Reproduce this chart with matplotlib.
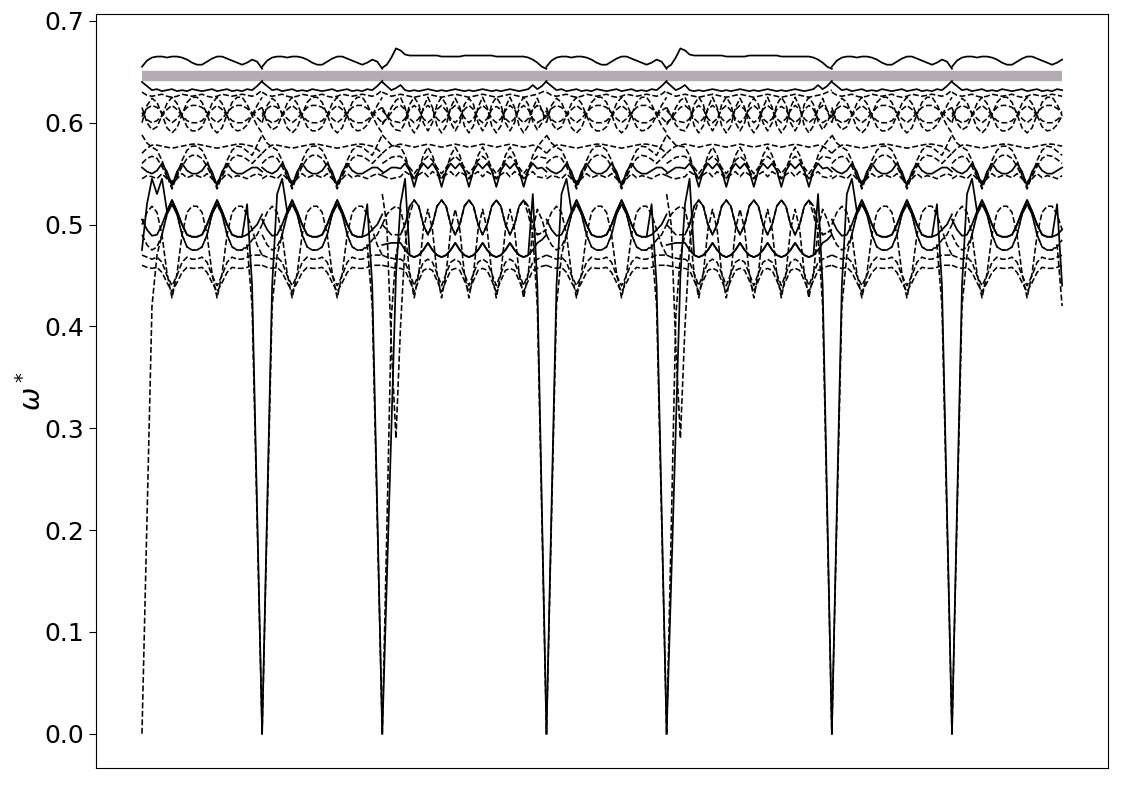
import numpy as np
import matplotlib.pyplot as plt

# k-path: segment type and length along the path
seg_types = ['A', 'A', 'B', 'A', 'B', 'A', 'A']
seg_lengths = [120, 120, 164, 120, 165, 120, 110]
gap_freq = 0.646

# ---- segment type A (25 samples along the segment) ----
A_T1 = [0.655,0.661,0.664,0.665,0.665,0.664,0.665,0.665,0.664,0.662,0.659,0.657,0.657,0.660,0.663,0.665,0.665,0.663,0.661,0.659,0.657,0.659,0.662,0.660,0.653]
A_T2 = [0.640,0.636,0.632,0.633,0.631,0.632,0.633,0.631,0.632,0.631,0.633,0.632,0.631,0.632,0.633,0.631,0.632,0.633,0.631,0.632,0.631,0.633,0.632,0.636,0.641]
A_T3 = [0.630,0.627,0.626,0.627,0.628,0.626,0.625,0.626,0.628,0.627,0.626,0.627,0.628,0.626,0.625,0.626,0.628,0.627,0.626,0.627,0.628,0.627,0.626,0.628,0.632]
A_C1 = [0.610,0.603,0.600,0.602,0.607,0.613,0.617,0.613,0.607,0.602,0.600,0.600,0.602,0.607,0.613,0.617,0.613,0.607,0.602,0.600,0.600,0.603,0.607,0.612,0.615]
A_C2 = [0.606,0.614,0.617,0.615,0.610,0.604,0.600,0.604,0.610,0.615,0.617,0.617,0.615,0.610,0.604,0.600,0.604,0.610,0.615,0.617,0.617,0.614,0.610,0.605,0.600]
A_C3 = [0.600,0.617,0.624,0.620,0.608,0.595,0.590,0.595,0.608,0.620,0.625,0.625,0.620,0.608,0.595,0.590,0.595,0.608,0.620,0.625,0.625,0.618,0.607,0.597,0.590]
A_C4 = [0.615,0.600,0.593,0.596,0.607,0.619,0.625,0.619,0.607,0.596,0.592,0.592,0.596,0.607,0.619,0.625,0.619,0.607,0.596,0.592,0.593,0.598,0.607,0.617,0.625]
A_F1 = [0.570,0.575,0.578,0.578,0.577,0.576,0.575,0.576,0.577,0.578,0.579,0.579,0.578,0.577,0.576,0.575,0.576,0.577,0.578,0.579,0.579,0.578,0.577,0.574,0.570]
A_A1 = [0.588,0.580,0.576,0.573,0.563,0.548,0.535,0.548,0.563,0.573,0.577,0.577,0.573,0.563,0.548,0.535,0.548,0.563,0.573,0.577,0.576,0.572,0.568,0.578,0.588]
A_M1 = [0.556,0.552,0.550,0.553,0.560,0.552,0.538,0.552,0.560,0.553,0.550,0.550,0.553,0.560,0.552,0.538,0.552,0.560,0.553,0.550,0.550,0.553,0.556,0.556,0.552]
A_M2 = [0.545,0.548,0.547,0.545,0.550,0.545,0.540,0.545,0.550,0.546,0.548,0.548,0.546,0.550,0.545,0.540,0.545,0.550,0.546,0.548,0.547,0.545,0.548,0.550,0.548]
A_M3 = [0.560,0.565,0.567,0.565,0.557,0.547,0.542,0.547,0.557,0.565,0.568,0.568,0.565,0.557,0.547,0.542,0.547,0.557,0.565,0.568,0.567,0.564,0.560,0.565,0.570]
A_L1 = [0.505,0.495,0.489,0.490,0.500,0.513,0.524,0.513,0.500,0.490,0.488,0.488,0.490,0.500,0.513,0.524,0.513,0.500,0.490,0.488,0.488,0.490,0.495,0.500,0.510]
A_L2 = [0.500,0.512,0.518,0.512,0.490,0.452,0.428,0.452,0.490,0.512,0.518,0.518,0.512,0.490,0.452,0.428,0.452,0.490,0.512,0.518,0.518,0.510,0.495,0.480,0.470]
A_L3 = [0.490,0.480,0.475,0.478,0.490,0.510,0.520,0.510,0.490,0.478,0.475,0.475,0.478,0.490,0.510,0.520,0.510,0.490,0.478,0.475,0.475,0.478,0.485,0.490,0.500]
A_L4 = [0.470,0.468,0.466,0.468,0.463,0.450,0.440,0.450,0.463,0.468,0.466,0.466,0.468,0.463,0.450,0.440,0.450,0.463,0.468,0.466,0.466,0.468,0.470,0.470,0.470]
A_L5 = [0.460,0.458,0.457,0.458,0.453,0.443,0.434,0.443,0.453,0.458,0.457,0.457,0.458,0.453,0.443,0.434,0.443,0.453,0.458,0.457,0.457,0.458,0.460,0.460,0.460]
A_AC1 = [0.000,0.220,0.440,0.530,0.545,0.513,0.524,0.513,0.500,0.490,0.488,0.488,0.490,0.500,0.513,0.524,0.513,0.500,0.490,0.488,0.488,0.520,0.440,0.220,0.000]
A_AC2 = [0.000,0.210,0.420,0.470,0.490,0.510,0.520,0.510,0.490,0.478,0.475,0.475,0.478,0.490,0.510,0.520,0.510,0.490,0.478,0.475,0.475,0.480,0.420,0.210,0.000]
# first point of the path: the solid branch does not start at zero
AC1_START = [0.475, 0.520, 0.545]

# ---- segment type B (37 samples along the segment) ----
B_T1 = [0.654,0.657,0.664,0.673,0.671,0.667,0.666,0.666,0.666,0.666,0.666,0.666,0.666,0.665,0.665,0.665,0.665,0.665,0.666,0.666,0.666,0.666,0.666,0.666,0.666,0.665,0.665,0.665,0.665,0.665,0.665,0.665,0.664,0.662,0.659,0.655,0.653]
B_T2 = [0.640,0.636,0.632,0.634,0.637,0.632,0.631,0.632,0.631,0.632,0.633,0.632,0.631,0.632,0.631,0.632,0.633,0.632,0.631,0.632,0.631,0.632,0.633,0.632,0.631,0.632,0.631,0.632,0.633,0.632,0.631,0.632,0.633,0.637,0.633,0.636,0.641]
B_T3 = [0.630,0.628,0.626,0.627,0.628,0.627,0.626,0.625,0.626,0.627,0.628,0.627,0.626,0.625,0.626,0.627,0.628,0.627,0.626,0.625,0.626,0.627,0.628,0.627,0.626,0.625,0.626,0.627,0.628,0.627,0.626,0.625,0.626,0.627,0.628,0.630,0.632]
B_C1 = [0.612,0.607,0.602,0.601,0.600,0.604,0.613,0.617,0.613,0.604,0.600,0.604,0.613,0.617,0.612,0.604,0.600,0.605,0.613,0.617,0.613,0.604,0.600,0.604,0.613,0.616,0.613,0.604,0.600,0.604,0.613,0.617,0.613,0.604,0.600,0.603,0.606]
B_C2 = [0.600,0.604,0.610,0.615,0.617,0.613,0.604,0.600,0.604,0.613,0.617,0.613,0.604,0.600,0.604,0.613,0.617,0.613,0.605,0.600,0.604,0.613,0.617,0.613,0.604,0.600,0.604,0.612,0.617,0.613,0.604,0.600,0.604,0.613,0.617,0.612,0.606]
B_C3 = [0.598,0.605,0.615,0.622,0.625,0.615,0.597,0.590,0.597,0.615,0.625,0.615,0.597,0.590,0.597,0.615,0.624,0.615,0.597,0.590,0.597,0.615,0.625,0.615,0.597,0.590,0.597,0.615,0.625,0.615,0.597,0.590,0.597,0.614,0.624,0.612,0.600]
B_C4 = [0.615,0.607,0.598,0.593,0.592,0.600,0.618,0.625,0.618,0.600,0.592,0.600,0.618,0.625,0.618,0.600,0.592,0.600,0.618,0.624,0.618,0.600,0.592,0.600,0.618,0.625,0.618,0.600,0.592,0.600,0.618,0.625,0.618,0.601,0.593,0.600,0.612]
B_F1 = [0.570,0.574,0.577,0.578,0.579,0.578,0.577,0.576,0.577,0.578,0.579,0.578,0.577,0.576,0.577,0.578,0.579,0.578,0.577,0.576,0.577,0.578,0.579,0.578,0.577,0.576,0.577,0.578,0.579,0.578,0.577,0.576,0.577,0.578,0.577,0.574,0.570]
B_A1 = [0.588,0.583,0.578,0.577,0.576,0.568,0.553,0.545,0.553,0.568,0.576,0.568,0.553,0.545,0.553,0.568,0.576,0.568,0.553,0.545,0.553,0.568,0.576,0.568,0.553,0.545,0.553,0.568,0.576,0.568,0.553,0.545,0.553,0.568,0.576,0.582,0.587]
B_M1 = [0.550,0.553,0.556,0.556,0.555,0.560,0.553,0.537,0.553,0.560,0.555,0.560,0.553,0.537,0.553,0.560,0.555,0.560,0.553,0.537,0.553,0.560,0.555,0.560,0.553,0.537,0.553,0.560,0.555,0.560,0.553,0.537,0.553,0.560,0.555,0.556,0.552]
B_M2 = [0.548,0.546,0.545,0.546,0.547,0.552,0.549,0.545,0.549,0.552,0.547,0.552,0.549,0.545,0.549,0.552,0.547,0.552,0.549,0.545,0.549,0.552,0.547,0.552,0.549,0.545,0.549,0.552,0.547,0.552,0.549,0.545,0.549,0.552,0.547,0.546,0.548]
B_M3 = [0.560,0.563,0.566,0.567,0.567,0.563,0.556,0.550,0.556,0.563,0.567,0.563,0.556,0.550,0.556,0.563,0.567,0.563,0.556,0.550,0.556,0.563,0.567,0.563,0.556,0.550,0.556,0.563,0.567,0.563,0.556,0.550,0.556,0.563,0.567,0.566,0.565]
B_L1 = [0.480,0.481,0.482,0.482,0.482,0.475,0.470,0.468,0.470,0.475,0.482,0.475,0.470,0.468,0.470,0.475,0.482,0.475,0.470,0.468,0.470,0.475,0.482,0.475,0.470,0.468,0.470,0.475,0.482,0.475,0.470,0.468,0.470,0.475,0.482,0.485,0.490]
B_L2 = [0.500,0.510,0.515,0.518,0.515,0.495,0.452,0.428,0.452,0.495,0.515,0.495,0.452,0.428,0.452,0.495,0.515,0.495,0.452,0.428,0.452,0.495,0.515,0.495,0.452,0.428,0.452,0.495,0.515,0.495,0.452,0.428,0.452,0.495,0.515,0.505,0.490]
B_L3 = [0.500,0.495,0.490,0.490,0.490,0.500,0.518,0.524,0.518,0.500,0.490,0.500,0.518,0.524,0.518,0.500,0.490,0.500,0.518,0.524,0.518,0.500,0.490,0.500,0.518,0.524,0.518,0.500,0.490,0.500,0.518,0.524,0.518,0.500,0.490,0.492,0.495]
B_L4 = [0.470,0.468,0.467,0.466,0.466,0.463,0.452,0.440,0.452,0.463,0.466,0.463,0.452,0.440,0.452,0.463,0.466,0.463,0.452,0.440,0.452,0.463,0.466,0.463,0.452,0.440,0.452,0.463,0.466,0.463,0.452,0.440,0.452,0.463,0.466,0.468,0.470]
B_L5 = [0.460,0.459,0.458,0.457,0.457,0.455,0.445,0.434,0.445,0.455,0.457,0.455,0.445,0.434,0.445,0.455,0.457,0.455,0.445,0.434,0.445,0.455,0.457,0.455,0.445,0.434,0.445,0.455,0.457,0.455,0.445,0.434,0.445,0.455,0.457,0.459,0.460]
B_AC1 = [0.000,0.150,0.300,0.450,0.520,0.545,0.470,0.468,0.470,0.475,0.482,0.475,0.470,0.468,0.470,0.475,0.482,0.475,0.470,0.468,0.470,0.475,0.482,0.475,0.470,0.468,0.470,0.475,0.482,0.475,0.470,0.468,0.470,0.530,0.440,0.220,0.000]
B_AC2 = [0.000,0.200,0.410,0.470,0.490,0.500,0.518,0.524,0.518,0.500,0.490,0.500,0.518,0.524,0.518,0.500,0.490,0.500,0.518,0.524,0.518,0.500,0.490,0.500,0.518,0.524,0.518,0.500,0.490,0.500,0.518,0.524,0.510,0.490,0.420,0.210,0.000]
B_D29 = [0.530,0.500,0.380,0.290,0.400,0.480,0.510,0.524,0.518,0.500,0.490,0.500,0.518,0.524,0.518,0.500,0.490,0.500,0.518,0.524,0.518,0.500,0.490,0.500,0.518,0.524,0.518,0.500,0.490,0.500,0.518,0.524,0.518,0.500,0.490,0.492,0.495]

bands_A = {'T1': A_T1, 'T2': A_T2, 'T3': A_T3, 'C1': A_C1, 'C2': A_C2, 'C3': A_C3,
           'C4': A_C4, 'F1': A_F1, 'A1': A_A1, 'M1': A_M1, 'M2': A_M2, 'M3': A_M3,
           'L1': A_L1, 'L2': A_L2, 'L3': A_L3, 'L4': A_L4, 'L5': A_L5,
           'AC1': A_AC1, 'AC2': A_AC2}
bands_B = {'T1': B_T1, 'T2': B_T2, 'T3': B_T3, 'C1': B_C1, 'C2': B_C2, 'C3': B_C3,
           'C4': B_C4, 'F1': B_F1, 'A1': B_A1, 'M1': B_M1, 'M2': B_M2, 'M3': B_M3,
           'L1': B_L1, 'L2': B_L2, 'L3': B_L3, 'L4': B_L4, 'L5': B_L5,
           'AC1': B_AC1, 'AC2': B_AC2, 'D29': B_D29}
solid_bands = {'T1', 'T2', 'M1', 'L1', 'AC1'}

fig, ax = plt.subplots(figsize=(11.25, 7.85), dpi=100)
fig.subplots_adjust(left=0.0853, right=0.985, bottom=0.0217, top=0.982)

k0 = 0.0
for n, (t, L) in enumerate(zip(seg_types, seg_lengths)):
    bands = bands_A if t == 'A' else bands_B
    for name, vals in bands.items():
        vals = list(vals)
        if n == 0 and name == 'AC1':
            vals[:len(AC1_START)] = AC1_START
        if t == 'A':
            npts = min(len(vals), int(round(L / 5.0)) + 1)
            x = k0 + 5.0 * np.arange(npts)
        else:
            npts = len(vals)
            x = np.linspace(k0, k0 + L, npts)
        if name in solid_bands:
            ax.plot(x, vals[:npts], color='k', lw=1.25, ls='-', zorder=3)
        else:
            ax.plot(x, vals[:npts], color='k', lw=1.15, ls='--', zorder=3)
    k0 += L

# band gap marker
ax.plot([0, k0], [gap_freq, gap_freq], color='#b5abb5', lw=7.5,
        solid_capstyle='butt', zorder=2)

ax.set_xticks([])
ax.tick_params(axis='y', labelsize=18, length=5)
ax.set_ylabel(r'$\omega^*$', fontsize=20, labelpad=-2)

plt.savefig('out.png')
